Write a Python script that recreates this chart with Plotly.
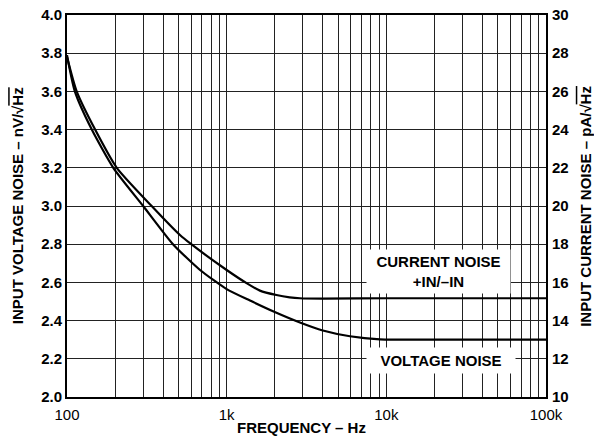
import plotly.graph_objects as go

# Voltage noise (nV/rtHz, left axis)
v_freq = [100, 112, 143, 195, 300, 461, 681, 1000, 1400, 2000, 2877, 4000, 5915, 9120, 20000, 50000, 100000]
v_noise = [3.79, 3.60, 3.40, 3.20, 3.00, 2.80, 2.665, 2.565, 2.505, 2.445, 2.39, 2.348, 2.318, 2.302, 2.30, 2.30, 2.30]

# Current noise (pA/rtHz, right axis)
i_freq = [100, 115, 150, 205, 339, 510, 589, 1000, 1340, 1615, 2050, 2480, 2877, 4000, 10000, 100000]
i_noise = [27.8, 26.0, 24.0, 22.0, 20.0, 18.48, 18.05, 16.65, 15.95, 15.57, 15.34, 15.22, 15.17, 15.15, 15.17, 15.17]

x_major = [100, 1000, 10000, 100000]
x_major_text = ["100", "1k", "10k", "100k"]

FONT = "Liberation Sans, Arial, sans-serif"
FS = 15

tickvals = []
ticktext = []
for d in [100, 1000, 10000]:
    for m in range(1, 10):
        tickvals.append(d * m)
        ticktext.append(x_major_text[x_major.index(d)] if m == 1 else "")
tickvals.append(100000)
ticktext.append("100k")

fig = go.Figure()
fig.add_trace(go.Scatter(x=v_freq, y=v_noise, mode="lines",
                         line=dict(color="black", width=2.2, shape="spline", smoothing=0.6),
                         showlegend=False, yaxis="y"))
fig.add_trace(go.Scatter(x=i_freq, y=i_noise, mode="lines",
                         line=dict(color="black", width=2.2, shape="spline", smoothing=0.6),
                         showlegend=False, yaxis="y2"))

fig.update_layout(
    width=594, height=438,
    margin=dict(l=67, r=48, t=15, b=41),
    paper_bgcolor="white", plot_bgcolor="white",
    font=dict(family=FONT, size=FS, color="black"),
    xaxis=dict(type="log", range=[2, 5], tickvals=tickvals, ticktext=ticktext,
               showgrid=True, gridcolor="#222", gridwidth=1,
               showline=True, linecolor="black", linewidth=2, mirror=True,
               ticks="", automargin=False, ticklabelstandoff=3,
               zeroline=False),
    yaxis=dict(range=[2.0, 4.0], dtick=0.2, tick0=2.0, tickformat=".1f",
               showgrid=True, gridcolor="#222", gridwidth=1,
               showline=True, linecolor="black", linewidth=2, mirror=True,
               ticks="", zeroline=False, automargin=False),
    yaxis2=dict(range=[10, 30], dtick=2, tick0=10, overlaying="y", side="right",
                showgrid=False, showline=False, ticks="", zeroline=False, automargin=False,
                ticklabelstandoff=5),
)

fig.update_xaxes(tickprefix="<b>", ticksuffix="</b>")
fig.update_yaxes(tickprefix="<b>", ticksuffix="</b>")

# axis titles
fig.add_annotation(x=0.49, y=-0.081, xref="paper", yref="paper", text="<b>FREQUENCY – Hz</b>",
                   showarrow=False, xanchor="center", yanchor="middle", font=dict(size=FS))
fig.add_annotation(x=-0.104, y=0.5, xref="paper", yref="paper", textangle=-90,
                   text='<b>INPUT VOLTAGE NOISE – nV/√<span style="text-decoration:overline">Hz</span></b>',
                   showarrow=False, xanchor="center", yanchor="middle", font=dict(size=FS))
fig.add_annotation(x=1.081, y=0.5, xref="paper", yref="paper", textangle=-90,
                   text='<b>INPUT CURRENT NOISE – pA/√<span style="text-decoration:overline">Hz</span></b>',
                   showarrow=False, xanchor="center", yanchor="middle", font=dict(size=FS))

# curve labels
fig.add_annotation(x=4.327, y=2.657, xref="x", yref="y", text="<b>CURRENT NOISE<br>+IN/–IN</b>",
                   showarrow=False, bgcolor="white", borderpad=4, width=135, height=35,
                   font=dict(size=FS, family=FONT))
fig.add_annotation(x=4.34, y=2.191, xref="x", yref="y", text="<b>VOLTAGE NOISE</b>",
                   showarrow=False, bgcolor="white", borderpad=4, width=140, height=17,
                   font=dict(size=FS, family=FONT))

fig.write_html("out.html", config={"displayModeBar": False},
               post_script="document.body.style.margin='0';")
